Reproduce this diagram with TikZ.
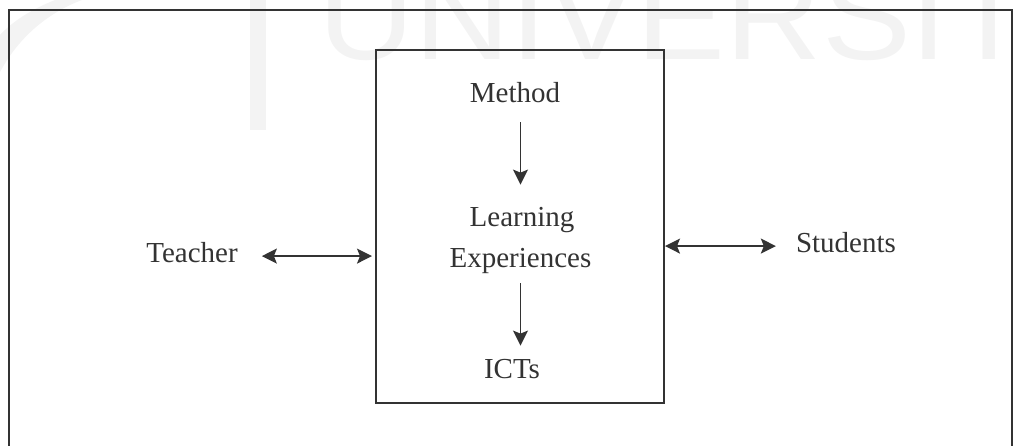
\documentclass[tikz,border=0pt]{standalone}
\usepackage{fontspec}
\setmainfont{Liberation Serif}
\newfontfamily\wmfont{Liberation Sans}
\usetikzlibrary{arrows.meta}
\definecolor{ink}{HTML}{333333}
\definecolor{wm}{HTML}{F3F3F3}
\begin{document}
\begin{tikzpicture}[x=1pt,y=-1pt,
  txt/.style={font=\fontsize{29}{35}\selectfont, text=ink, inner sep=0pt, anchor=base},
  frame/.style={draw=ink, line width=2pt},
  arr/.style={draw=ink, line width=1.5pt, -{Stealth[length=15pt,width=15pt,inset=3pt]}},
  darr/.style={draw=ink, line width=1.5pt, {Stealth[length=15pt,width=15pt,inset=3pt]}-{Stealth[length=15pt,width=15pt,inset=3pt]}}]
\useasboundingbox (0,0) rectangle (1013,446);
\begin{scope}
  \clip (0,0) rectangle (1013,446);
  % faint watermark
  \fill[wm] (0,72) .. controls (20,35) and (50,12) .. (82,0) -- (55,0) .. controls (30,10) and (12,22) .. (0,35) -- cycle;
  \fill[wm] (250,0) rectangle (266,130);
  \node[anchor=base west, inner sep=0pt, text=wm, xscale=1.05, font=\wmfont\fontsize{127}{127}\selectfont] (wmark) at (318,60) {UNIVERSITY};
  % outer frame (open at the bottom edge of the picture)
  \draw[frame] (9,470) -- (9,10.5) -- (1011.5,10.5) -- (1011.5,470);
\end{scope}
% central box
\node[draw=ink, line width=2pt, minimum width=288pt, minimum height=353pt, inner sep=0pt] (box) at (520,226.5) {};
% texts
\node[txt] (method) at (515,103) {Method};
\node[txt] (learn1) at (522,227) {Learning};
\node[txt] (learn2) at (520.5,268) {Experiences};
\node[txt] (icts) at (512,379) {ICTs};
\node[txt] (teacher) at (192,263) {Teacher};
\node[txt] (students) at (846,253) {Students};
% connectors
\draw[arr, shorten <=19pt, shorten >=23pt] (method.south -| learn2.north) -- (learn1.north -| learn2.north);
\draw[arr, shorten <=9pt, shorten >=14pt] (learn2.south) -- (learn2.south |- icts.north);
\draw[darr, shorten <=24pt, shorten >=3pt] ([yshift=-3pt]teacher.east) -- ([yshift=-3pt]teacher.east -| box.west);
\draw[darr, shorten <=0pt, shorten >=20pt] ([yshift=-3pt]box.east |- students.west) -- ([yshift=-3pt]students.west);
\end{tikzpicture}
\end{document}
